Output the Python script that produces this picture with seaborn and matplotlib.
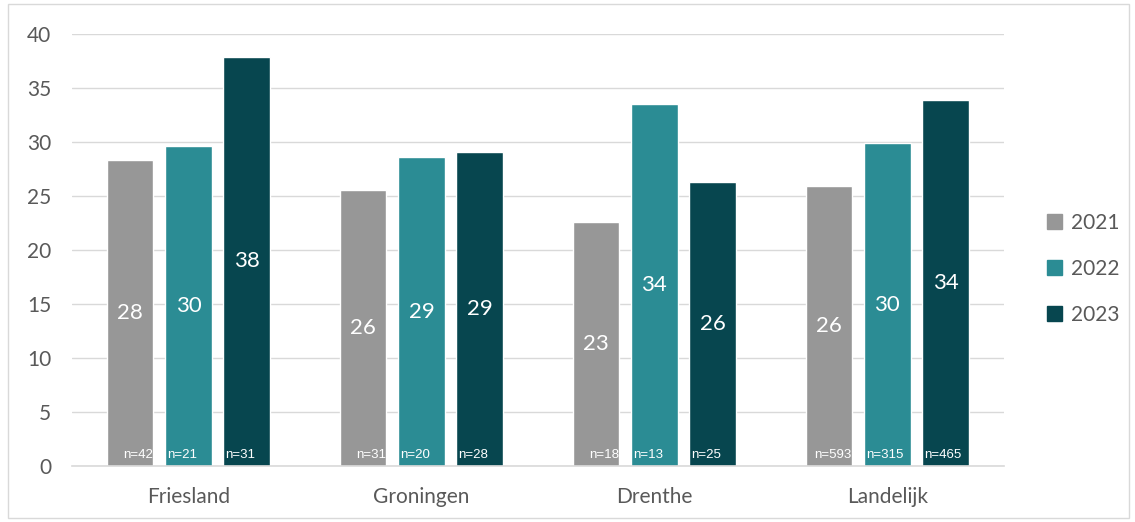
import pandas as pd
import matplotlib.pyplot as plt
import seaborn as sns
from matplotlib.patches import Rectangle

sns.set_theme(style="white")
plt.rcParams['font.family'] = ['Lato', 'DejaVu Sans']

regions = ['Friesland', 'Groningen', 'Drenthe', 'Landelijk']
years = ['2021', '2022', '2023']
values_2021 = [28.3, 25.6, 22.6, 25.9]
values_2022 = [29.6, 28.6, 33.5, 29.9]
values_2023 = [37.9, 29.1, 26.3, 33.9]
n_2021 = [42, 31, 18, 593]
n_2022 = [21, 20, 13, 315]
n_2023 = [31, 28, 25, 465]

colors = ['#979797', '#2B8C94', '#07464F']
text_grey = '#595959'
grid_grey = '#D9D9D9'

rows = []
for year, vals, ns in zip(years, [values_2021, values_2022, values_2023], [n_2021, n_2022, n_2023]):
    for reg, v, n in zip(regions, vals, ns):
        rows.append({'Regio': reg, 'Jaar': year, 'Waarde': v, 'n': n})
df = pd.DataFrame(rows)

fig = plt.figure(figsize=(11.35, 5.22), dpi=100)
ax = fig.add_axes([0.0634, 0.107, 0.821, 0.828])

sns.barplot(data=df, x='Regio', y='Waarde', hue='Jaar', palette=colors,
            width=0.75, gap=0.2, saturation=1, ax=ax, errorbar=None)

ax.set_ylim(0, 40)
ax.set_xlim(-0.5, 3.5)
ax.set_yticks(range(0, 41, 5))
ax.yaxis.grid(True, color=grid_grey, linewidth=1)
ax.set_axisbelow(True)
for side in ['top', 'right', 'left']:
    ax.spines[side].set_visible(False)
ax.spines['bottom'].set_color(grid_grey)
ax.spines['bottom'].set_linewidth(1.2)
ax.tick_params(axis='both', length=0, labelsize=15, colors=text_grey)
ax.tick_params(axis='x', pad=15)
ax.tick_params(axis='y', pad=15)
ax.set_xlabel('')
ax.set_ylabel('')

# value labels in the middle of the bars, n labels at the bottom
for i, cont in enumerate(ax.containers):
    ax.bar_label(cont, fmt='%.0f', label_type='center', color='white', fontsize=16)
    ns = df[df['Jaar'] == years[i]]['n'].tolist()
    for bar, n in zip(cont, ns):
        if i == 0:
            x = bar.get_x() + bar.get_width() - 0.003
            ha = 'right'
        else:
            x = bar.get_x() + 0.008
            ha = 'left'
        ax.text(x, 1.0, f'n={n}', ha=ha, va='center', color='white', fontsize=9.5,
                family=['Liberation Sans', 'DejaVu Sans'])

ax.legend_.remove()
handles = [Rectangle((0, 0), 1, 1, color=c) for c in colors]
fig.legend(handles, years, loc='center left', bbox_to_anchor=(0.906, 0.485),
           frameon=False, fontsize=15, labelcolor=text_grey, handlelength=0.7,
           handleheight=0.7, handletextpad=0.45, labelspacing=1.25)

fig.patches.append(Rectangle((0.007, 0.008), 0.988, 0.984, transform=fig.transFigure,
                             fill=False, edgecolor=grid_grey, linewidth=1))

plt.savefig('out.png', dpi=100)
